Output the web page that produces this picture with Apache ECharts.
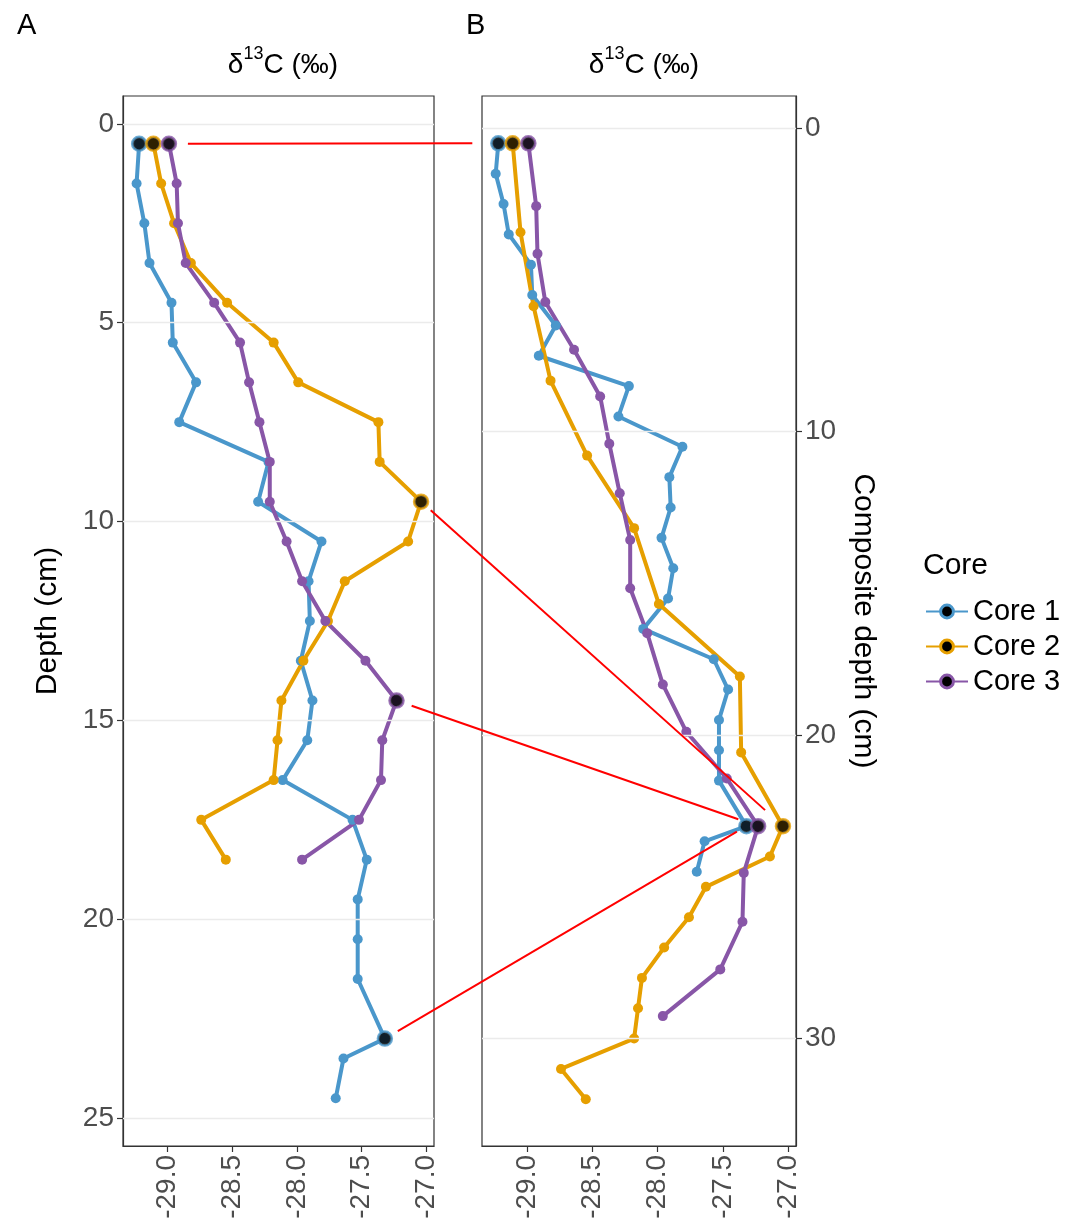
<!DOCTYPE html>
<html>
<head>
<meta charset="utf-8">
<script src="https://cdn.jsdelivr.net/npm/echarts@6/dist/echarts.min.js"></script>
<style>
html,body{margin:0;padding:0;background:#fff;}
#chart{width:1071px;height:1230px;}
</style>
</head>
<body>
<div id="chart"></div>
<script>
// ---------------- DATA ----------------
const coreNames = ['Core 1', 'Core 2', 'Core 3'];

// sample depth (cm), panel A
const depthCore1 = [0.5,1.5,2.5,3.5,4.5,5.5,6.5,7.5,8.5,9.5,10.5,11.5,12.5,13.5,14.5,15.5,16.5,17.5,18.5,19.5,20.5,21.5,23.0,23.5,24.5];
const depthCore2 = [0.5,1.5,2.5,3.5,4.5,5.5,6.5,7.5,8.5,9.5,10.5,11.5,12.5,13.5,14.5,15.5,16.5,17.5,18.5];
const depthCore3 = [0.5,1.5,2.5,3.5,4.5,5.5,6.5,7.5,8.5,9.5,10.5,11.5,12.5,13.5,14.5,15.5,16.5,17.5,18.5];

// composite depth (cm), panel B
const compCore1 = [0.5,1.5,2.5,3.5,4.5,5.5,6.5,7.5,8.5,9.5,10.5,11.5,12.5,13.5,14.5,15.5,16.5,17.5,18.5,19.5,20.5,21.5,23.0,23.5,24.5];
const compCore2 = [0.5,3.43,5.87,8.32,10.79,13.18,15.68,18.07,20.57,23.0,24.0,25.0,26.0,27.0,28.0,29.0,30.0,31.0,32.0];
const compCore3 = [0.5,2.57,4.14,5.73,7.30,8.84,10.40,12.03,13.57,15.16,16.64,18.33,19.89,21.43,23.0,24.54,26.15,27.72,29.26];

// delta 13C (permil)
const d13Core1 = [-29.22,-29.24,-29.18,-29.14,-28.97,-28.96,-28.78,-28.91,-28.22,-28.30,-27.81,-27.91,-27.90,-27.97,-27.88,-27.92,-28.11,-27.57,-27.46,-27.53,-27.53,-27.53,-27.32,-27.64,-27.70];
const d13Core2 = [-29.11,-29.05,-28.95,-28.82,-28.54,-28.18,-27.99,-27.37,-27.36,-27.04,-27.14,-27.63,-27.76,-27.95,-28.12,-28.15,-28.18,-28.74,-28.55];
const d13Core3 = [-28.99,-28.93,-28.92,-28.86,-28.64,-28.44,-28.37,-28.29,-28.21,-28.21,-28.08,-27.96,-27.78,-27.47,-27.23,-27.34,-27.35,-27.52,-27.96];

// indices of tie-point samples (highlighted)
const tieCore1 = [0, 22];
const tieCore2 = [0, 9];
const tieCore3 = [0, 14];

// tick labels
const xTicks = [-29.0, -28.5, -28.0, -27.5, -27.0];
const yTicksA = [0, 5, 10, 15, 20, 25];
const yTicksB = [0, 10, 20, 30];

// connections: [core in A, sample idx, core in B, sample idx]
const links = [[2, 0, 0, 0], [1, 9, 1, 9], [2, 14, 2, 14], [0, 22, 0, 22]];

// ---------------- STYLE ----------------
const colors = ['#4A97CB', '#E69F00', '#8856A7'];
const linkTrim = [[19, 26], [13, 24], [16, 21], [15, 11]];
const FONT = '"Liberation Sans", Arial, sans-serif';

const depths = [depthCore1, depthCore2, depthCore3];
const comps = [compCore1, compCore2, compCore3];
const vals = [d13Core1, d13Core2, d13Core3];
const ties = [tieCore1, tieCore2, tieCore3];

const chart = echarts.init(document.getElementById('chart'), null, {renderer: 'canvas'});

function xAxisCfg(gi) {
  return {
    type: 'value', gridIndex: gi, position: 'bottom',
    min: -29.345, max: -26.94,
    axisLine: {show: true, onZero: false, lineStyle: {color: '#333', width: 1.2}},
    axisTick: {show: true, length: 6, lineStyle: {color: '#333', width: 1.2}, customValues: xTicks},
    axisLabel: {show: true, rotate: 90, margin: 9, fontSize: 28, color: '#4d4d4d', fontFamily: FONT,
      customValues: xTicks, formatter: v => v.toFixed(1)},
    splitLine: {show: false}
  };
}

const titleRich = {
  d: {fontSize: 28, color: '#000', fontFamily: FONT, fontWeight: 'normal', verticalAlign: 'bottom', lineHeight: 34},
  s: {fontSize: 18, color: '#000', fontFamily: FONT, fontWeight: 'normal', verticalAlign: 'top', lineHeight: 34, padding: [0, 0, 14, 0]}
};

const option = {
  animation: false,
  backgroundColor: '#fff',
  textStyle: {fontFamily: FONT},
  title: [
    {text: 'A', left: 12, top: 6, textStyle: {fontSize: 29, fontWeight: 'normal', color: '#000', fontFamily: FONT}},
    {text: 'B', left: 461, top: 6, textStyle: {fontSize: 29, fontWeight: 'normal', color: '#000', fontFamily: FONT}},
    {text: '{d|δ}{s|13}{d|C (‰)}', left: 278, top: 40, textAlign: 'center',
      textStyle: {fontWeight: 'normal', rich: titleRich}},
    {text: '{d|δ}{s|13}{d|C (‰)}', left: 639, top: 40, textAlign: 'center',
      textStyle: {fontWeight: 'normal', rich: titleRich}},
    {text: 'Core', left: 918, top: 546, textStyle: {fontSize: 30, fontWeight: 'normal', color: '#000', fontFamily: FONT}}
  ],
  legend: {
    orient: 'vertical', left: 920, top: 592, itemWidth: 42, itemHeight: 16, itemGap: 6,
    textStyle: {fontSize: 29, color: '#000', fontFamily: FONT},
    data: coreNames.map((n, i) => ({name: n, itemStyle: {color: '#000', borderColor: colors[i], borderWidth: 3}}))
  },
  grid: [
    {left: 123, top: 96, width: 311, height: 1050, show: true, borderColor: '#333', borderWidth: 1.2, backgroundColor: '#fff'},
    {left: 482, top: 96, width: 314, height: 1050, show: true, borderColor: '#333', borderWidth: 1.2, backgroundColor: '#fff'}
  ],
  xAxis: [xAxisCfg(0), xAxisCfg(1)],
  yAxis: [
    {type: 'value', gridIndex: 0, inverse: true, min: -0.7, max: 25.7, position: 'left',
      name: 'Depth (cm)', nameLocation: 'middle', nameRotate: 90, nameGap: 60,
      nameTextStyle: {fontSize: 30, color: '#000', fontFamily: FONT},
      axisLine: {show: true, onZero: false, lineStyle: {color: '#333', width: 1.2}},
      axisTick: {show: true, length: 6, lineStyle: {color: '#333', width: 1.2}, customValues: yTicksA},
      axisLabel: {margin: 9, fontSize: 28, color: '#4d4d4d', fontFamily: FONT, customValues: yTicksA},
      splitLine: {show: false}},
    {type: 'value', gridIndex: 1, inverse: true, min: -1.06, max: 33.54, position: 'right',
      name: 'Composite depth (cm)', nameLocation: 'middle', nameRotate: -90, nameGap: 52,
      nameTextStyle: {fontSize: 30, color: '#000', fontFamily: FONT},
      axisLine: {show: true, onZero: false, lineStyle: {color: '#333', width: 1.2}},
      axisTick: {show: true, length: 6, lineStyle: {color: '#333', width: 1.2}, customValues: yTicksB},
      axisLabel: {margin: 9, fontSize: 28, color: '#4d4d4d', fontFamily: FONT, customValues: yTicksB},
      splitLine: {show: false}}
  ],
  series: []
};

// gridlines (horizontal, major) drawn through the axes via markLine
function gridLines(ticks) {
  return {silent: true, symbol: 'none', label: {show: false},
    lineStyle: {color: '#EBEBEB', width: 1.3, type: 'solid'},
    data: ticks.map(t => ({yAxis: t}))};
}
option.series.push({type: 'line', name: 'gridA', xAxisIndex: 0, yAxisIndex: 0, data: [], z: 0, markLine: gridLines(yTicksA)});
option.series.push({type: 'line', name: 'gridB', xAxisIndex: 1, yAxisIndex: 1, data: [], z: 0, markLine: gridLines(yTicksB)});

for (let p = 0; p < 2; p++) {
  for (let c = 0; c < 3; c++) {
    const ys = p === 0 ? depths[c] : comps[c];
    option.series.push({
      type: 'line', name: coreNames[c], xAxisIndex: p, yAxisIndex: p,
      data: vals[c].map((v, i) => [v, ys[i]]),
      symbol: 'circle', symbolSize: 10, showSymbol: true,
      itemStyle: {color: colors[c]},
      lineStyle: {color: colors[c], width: 4},
      z: 2
    });
  }
  for (let c = 0; c < 3; c++) {
    const ys = p === 0 ? depths[c] : comps[c];
    option.series.push({
      type: 'scatter', name: 'tie', xAxisIndex: p, yAxisIndex: p,
      data: ties[c].map(i => [vals[c][i], ys[i]]),
      symbol: 'circle', symbolSize: 14,
      itemStyle: {color: '#000', borderColor: colors[c], borderWidth: 2.5},
      z: 4
    });
  }
}

chart.setOption(option);

// red connector lines between panels, positioned through the axes
const elements = links.map((l, k) => {
  const [ca, ia, cb, ib] = l;
  const pa = chart.convertToPixel({xAxisIndex: 0, yAxisIndex: 0}, [vals[ca][ia], depths[ca][ia]]);
  const pb = chart.convertToPixel({xAxisIndex: 1, yAxisIndex: 1}, [vals[cb][ib], comps[cb][ib]]);
  const dx = pb[0] - pa[0], dy = pb[1] - pa[1];
  const len = Math.sqrt(dx * dx + dy * dy);
  const ux = dx / len, uy = dy / len;
  const [t0, t1] = linkTrim[k];
  return {
    type: 'line', z: 100, silent: true,
    shape: {x1: pa[0] + ux * t0, y1: pa[1] + uy * t0, x2: pb[0] - ux * t1, y2: pb[1] - uy * t1},
    style: {stroke: '#FF0000', lineWidth: 2}
  };
});
chart.setOption({graphic: {elements: elements}});
</script>
</body>
</html>
